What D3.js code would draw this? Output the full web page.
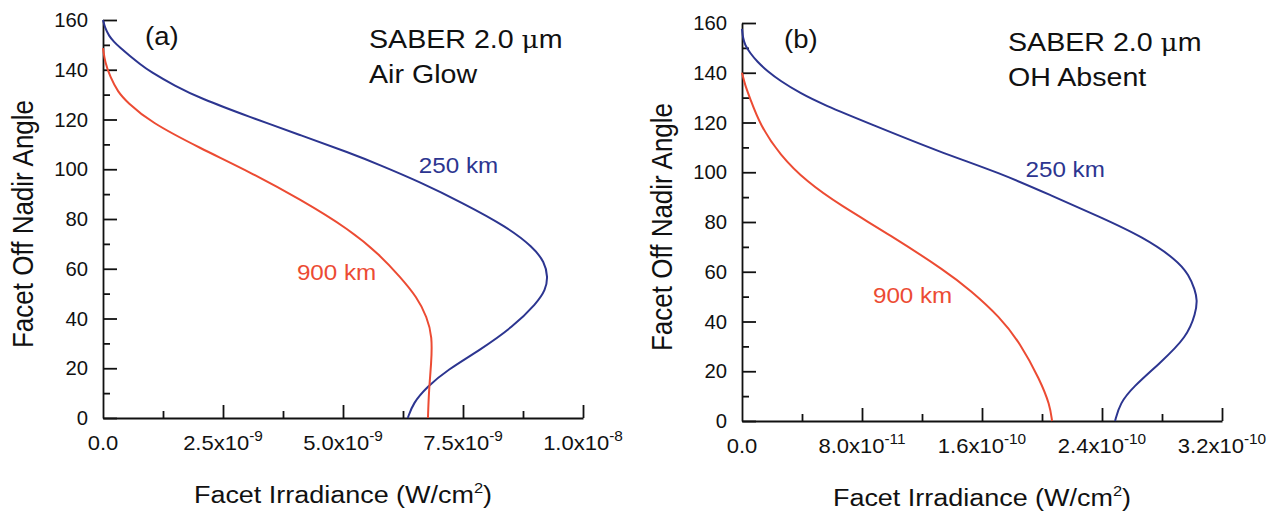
<!DOCTYPE html>
<html>
<head>
<meta charset="utf-8">
<script src="https://cdn.jsdelivr.net/npm/d3@7"></script>
<style>
  body { margin: 0; background: #fff; }
  svg { display: block; font-family: "Liberation Sans", Arial, sans-serif; }
</style>
</head>
<body>
<svg id="chart" width="1277" height="515"></svg>
<script>
// panel (a) Air Glow, irradiance in units of 1e-9 W/cm2
const glow250Irr = [0, 0.042, 0.125, 0.229, 0.354, 0.5625, 0.771, 0.979, 1.5, 2.02, 3.06, 4.1, 5.15, 5.77, 6.6, 7.5, 8.42, 8.96, 9.2, 9.27, 9.22, 9.04, 8.54, 7.85, 7.17, 6.75, 6.46, 6.35]
const glow250Ang = [160, 156.8, 153.6, 151.2, 148.9, 145.5, 142.3, 139.3, 133.5, 128.6, 121, 113.8, 106.5, 101.7, 94.9, 86.4, 76.8, 68.7, 62.7, 56.7, 51.5, 46.2, 36.6, 27.3, 19.3, 12.5, 6, 0]
const glow900Irr = [0, 0.04, 0.15, 0.31, 0.5, 0.98, 2.02, 3.06, 4.1, 5.15, 5.77, 6.19, 6.54, 6.75, 6.86, 6.84, 6.79, 6.77]
const glow900Ang = [148.7, 143.1, 137.1, 131.1, 127, 119, 108.5, 98.9, 88, 75.6, 65.5, 56.7, 48.6, 40.6, 32.6, 22.1, 11.3, 0]

// panel (b) OH Absent, irradiance in units of 1e-11 W/cm2
const noOh250Irr = [0, 0.067, 0.2, 0.533, 1.0, 1.733, 2.533, 3.867, 5.4, 8.733, 13.2, 17.2, 20.53, 23.87, 26.73, 29.0, 29.8, 30.2, 30.35, 30.25, 29.67, 27.87, 26.07, 25.2, 24.87]
const noOh250Ang = [157.6, 153.9, 151.1, 148, 144.5, 140.4, 136.8, 131.8, 127.2, 119, 108.1, 99.7, 90.9, 82, 74, 64.7, 58.7, 52.7, 48.6, 43.5, 33.8, 23.3, 13.7, 7.2, 0]
const noOh900Irr = [0, 0.2, 0.53, 1.2, 2.53, 4.33, 6.53, 9.87, 13.67, 15.2, 17.2, 18.53, 19.87, 20.53, 20.67]
const noOh900Ang = [140, 135.1, 129.8, 119, 106.9, 96.1, 86.8, 74.8, 59.9, 52.7, 41.8, 31.4, 16.5, 6.4, 0]

// axis ticks
const angleTicks = [0, 20, 40, 60, 80, 100, 120, 140, 160]
const angleMinor = [10, 30, 50, 70, 90, 110, 130, 150]
const glowTicks = [0, 2.5, 5, 7.5, 10]
const glowMinor = [1.25, 3.75, 6.25, 8.75]
const glowTickMant = ['0.0', '2.5x10', '5.0x10', '7.5x10', '1.0x10']
const glowTickExp = ['', '-9', '-9', '-9', '-8']
const noOhTicks = [0, 8, 16, 24, 32]
const noOhMinor = [4, 12, 20, 28]
const noOhTickMant = ['0.0', '8.0x10', '1.6x10', '2.4x10', '3.2x10']
const noOhTickExp = ['', '-11', '-10', '-10', '-10']

const BLUE = '#2c3590'
const RED = '#ec4b33'
const INK = '#111'
const SX = 1.1 // the scan is a little wider than tall

const svg = d3.select('#chart')

function zip(irr, ang) {
  return irr.map((v, i) => ({ irr: v, ang: ang[i] }))
}

// text with a horizontal stretch around its anchor
function stretchedText(parent, x, y, size, anchor, extra, sx) {
  return parent.append('text')
    .attr('transform', `translate(${x},${y}) scale(${sx || SX},1)${extra || ''}`)
    .attr('font-size', size)
    .attr('text-anchor', anchor)
    .attr('fill', INK)
}

function renderPanel(p) {
  const x = d3.scaleLinear().domain(p.xDomain).range([p.left, p.left + 480])
  const y = d3.scaleLinear().domain([0, 160]).range([p.bottom, p.bottom - 398])
  const g = svg.append('g')

  // axes, ticks point inward
  g.append('g')
    .attr('transform', `translate(${p.left},0)`)
    .call(d3.axisLeft(y).tickValues(angleTicks).tickSize(-14).tickSizeOuter(0).tickFormat(''))
  const yMinor = g.append('g')
    .attr('transform', `translate(${p.left},0)`)
    .call(d3.axisLeft(y).tickValues(angleMinor).tickSize(-7).tickFormat(''))
  yMinor.select('.domain').remove()

  g.append('g')
    .attr('transform', `translate(0,${p.bottom})`)
    .call(d3.axisBottom(x).tickValues(p.ticks.slice(1)).tickSize(-13).tickSizeOuter(0).tickFormat(''))
  const xMinor = g.append('g')
    .attr('transform', `translate(0,${p.bottom})`)
    .call(d3.axisBottom(x).tickValues(p.minor).tickSize(-7).tickFormat(''))
  xMinor.select('.domain').remove()

  g.selectAll('.domain, .tick line')
    .attr('stroke', INK)
    .attr('stroke-width', 1.8)

  // y tick labels
  angleTicks.forEach(v => {
    stretchedText(g, p.left - 15, y(v) + 7, 19.5, 'end', '', 1.04).text(v)
  })

  // x tick labels with superscript exponents
  p.ticks.forEach((v, i) => {
    const t = stretchedText(g, x(v), p.bottom + 32, 20, 'middle')
    t.append('tspan').text(p.mant[i])
    if (p.exp[i]) {
      t.append('tspan').attr('dy', -9).attr('font-size', 14).text(p.exp[i])
    }
  })

  // axis titles
  const xt = stretchedText(g, x(p.xDomain[1] / 2), p.bottom + 85, 24.5, 'middle')
  xt.append('tspan').text('Facet Irradiance (W/cm')
  xt.append('tspan').attr('dy', -10).attr('font-size', 15).text('2')
  xt.append('tspan').attr('dy', 10).text(')')

  stretchedText(g, p.left - 70, y(80) + 5, 26, 'middle', ' rotate(-90)')
    .text('Facet Off Nadir Angle')

  // curves
  const line = d3.line()
    .x(d => x(d.irr))
    .y(d => y(d.ang))
    .curve(d3.curveBasis)

  p.series.forEach(s => {
    g.append('path')
      .attr('d', line(s.data))
      .attr('fill', 'none')
      .attr('stroke', s.color)
      .attr('stroke-width', 2)

    stretchedText(g, x(s.label[0]), y(s.label[1]), 22, 'start')
      .attr('fill', s.color)
      .text(s.name)
  })

  // annotations
  stretchedText(g, p.left + 42, y(160) + 25, 25, 'start').text(p.tag)
  const note = stretchedText(g, p.left + 266, y(160) + 28, 26, 'start')
  note.append('tspan').text('SABER 2.0 ')
  note.append('tspan').attr('font-family', '"DejaVu Serif", serif').attr('font-size', 24).text('\u03bc')
  note.append('tspan').text('m')
  stretchedText(g, p.left + 266, y(160) + 63, 26, 'start').text(p.note)
}

renderPanel({
  left: 103, bottom: 418,
  xDomain: [0, 10], ticks: glowTicks, minor: glowMinor,
  mant: glowTickMant, exp: glowTickExp,
  tag: '(a)', note: 'Air Glow',
  series: [
    { name: '250 km', color: BLUE, data: zip(glow250Irr, glow250Ang), label: [6.58, 98.5] },
    { name: '900 km', color: RED, data: zip(glow900Irr, glow900Ang), label: [4.04, 55.5] }
  ]
})

renderPanel({
  left: 742, bottom: 421,
  xDomain: [0, 32], ticks: noOhTicks, minor: noOhMinor,
  mant: noOhTickMant, exp: noOhTickExp,
  tag: '(b)', note: 'OH Absent',
  series: [
    { name: '250 km', color: BLUE, data: zip(noOh250Irr, noOh250Ang), label: [18.9, 98.1] },
    { name: '900 km', color: RED, data: zip(noOh900Irr, noOh900Ang), label: [8.73, 47.4] }
  ]
})
</script>
</body>
</html>
